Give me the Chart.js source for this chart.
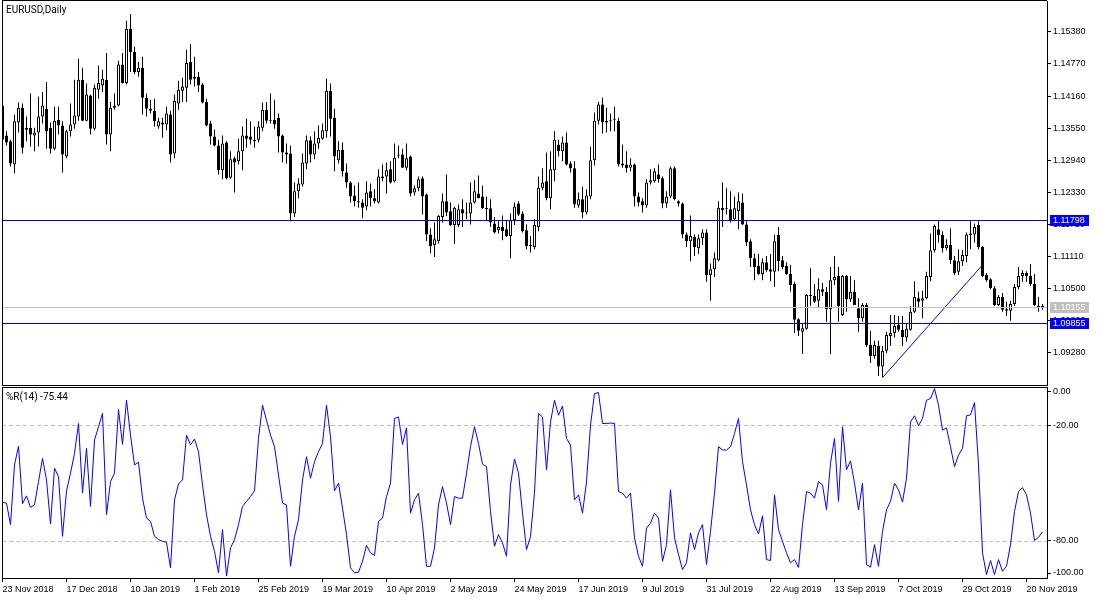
<!DOCTYPE html>
<html lang="en">
<head>
  <meta charset="UTF-8">
  <title>EURUSD,Daily</title>
  <style>
    html, body { margin: 0; padding: 0; background: #fff; }
    #wrap { position: relative; width: 1100px; height: 600px; overflow: hidden; background: #fff; }
    canvas { position: absolute; left: 0; }
    #price { top: 0; }
    #wpr { top: 386px; }
  </style>
</head>
<body>
  <div id="wrap">
    <canvas id="price" width="1100" height="386" style="width:1100px;height:386px"></canvas>
    <canvas id="wpr" width="1100" height="214" style="width:1100px;height:214px"></canvas>
  </div>
  <script src="https://cdn.jsdelivr.net/npm/chart.js@4.4.1/dist/chart.umd.min.js"></script>
  <script>
    const symbol = 'EURUSD,Daily';

    const opens = [
      1.1398, 1.1341, 1.1330, 1.1286, 1.1366, 1.1394, 1.1352, 1.1356, 1.1341, 1.1347,
      1.1377, 1.1392, 1.1356, 1.1316, 1.1371, 1.1360, 1.1301, 1.1349, 1.1362, 1.1377,
      1.1447, 1.1369, 1.1417, 1.1354, 1.1428, 1.1436, 1.1447, 1.1343, 1.1394, 1.1398,
      1.1476, 1.1441, 1.1544, 1.1500, 1.1462, 1.1470, 1.1413, 1.1392, 1.1388, 1.1358,
      1.1366, 1.1362, 1.1381, 1.1307, 1.1402, 1.1426, 1.1432, 1.1481, 1.1449, 1.1453,
      1.1438, 1.1405, 1.1364, 1.1339, 1.1322, 1.1275, 1.1328, 1.1261, 1.1298, 1.1292,
      1.1311, 1.1341, 1.1339, 1.1333, 1.1333, 1.1356, 1.1390, 1.1369, 1.1371, 1.1375,
      1.1341, 1.1309, 1.1307, 1.1193, 1.1235, 1.1248, 1.1288, 1.1332, 1.1305, 1.1326,
      1.1335, 1.1349, 1.1426, 1.1375, 1.1294, 1.1314, 1.1271, 1.1252, 1.1227, 1.1216,
      1.1214, 1.1206, 1.1235, 1.1222, 1.1214, 1.1260, 1.1263, 1.1277, 1.1254, 1.1303,
      1.1305, 1.1280, 1.1301, 1.1233, 1.1241, 1.1260, 1.1229, 1.1153, 1.1133, 1.1140,
      1.1186, 1.1216, 1.1197, 1.1171, 1.1171, 1.1201, 1.1193, 1.1193, 1.1214, 1.1231,
      1.1225, 1.1204, 1.1203, 1.1174, 1.1161, 1.1167, 1.1163, 1.1150, 1.1180, 1.1212,
      1.1193, 1.1161, 1.1131, 1.1129, 1.1167, 1.1242, 1.1254, 1.1222, 1.1275, 1.1324,
      1.1311, 1.1328, 1.1288, 1.1279, 1.1208, 1.1220, 1.1195, 1.1225, 1.1294, 1.1369,
      1.1400, 1.1366, 1.1369, 1.1371, 1.1369, 1.1288, 1.1286, 1.1280, 1.1286, 1.1225,
      1.1216, 1.1208, 1.1252, 1.1254, 1.1267, 1.1260, 1.1212, 1.1225, 1.1279, 1.1216,
      1.1212, 1.1153, 1.1140, 1.1148, 1.1127, 1.1146, 1.1157, 1.1076, 1.1087, 1.1104,
      1.1204, 1.1201, 1.1201, 1.1182, 1.1197, 1.1214, 1.1172, 1.1140, 1.1108, 1.1093,
      1.1078, 1.1100, 1.1087, 1.1082, 1.1152, 1.1104, 1.1093, 1.1078, 1.1059, 1.0992,
      1.0968, 1.0974, 1.1038, 1.1036, 1.1027, 1.1049, 1.1044, 1.1011, 1.1066, 1.1074,
      1.1000, 1.1074, 1.1030, 1.1044, 1.1013, 1.0994, 1.1019, 1.0943, 1.0922, 1.0941,
      1.0902, 1.0932, 1.0960, 1.0966, 1.0981, 1.0972, 1.0957, 1.0972, 1.1006, 1.1032,
      1.1027, 1.1032, 1.1072, 1.1123, 1.1163, 1.1152, 1.1127, 1.1133, 1.1104, 1.1082,
      1.1102, 1.1112, 1.1152, 1.1153, 1.1171, 1.1129, 1.1076, 1.1068, 1.1051, 1.1019,
      1.1034, 1.1011, 1.1008, 1.1021, 1.1053, 1.1074, 1.1080, 1.1074, 1.1059, 1.1017,
      1.1015
    ];
    const highs = [
      1.1402, 1.1349, 1.1333, 1.1381, 1.1404, 1.1402, 1.1377, 1.1421, 1.1356, 1.1415,
      1.1424, 1.1443, 1.1366, 1.1396, 1.1396, 1.1368, 1.1352, 1.1402, 1.1447, 1.1487,
      1.1470, 1.1440, 1.1419, 1.1438, 1.1474, 1.1466, 1.1498, 1.1405, 1.1421, 1.1483,
      1.1498, 1.1559, 1.1572, 1.1510, 1.1481, 1.1491, 1.1421, 1.1409, 1.1411, 1.1375,
      1.1375, 1.1396, 1.1388, 1.1419, 1.1445, 1.1451, 1.1504, 1.1515, 1.1491, 1.1462,
      1.1441, 1.1411, 1.1369, 1.1352, 1.1333, 1.1341, 1.1330, 1.1311, 1.1301, 1.1335,
      1.1358, 1.1373, 1.1368, 1.1358, 1.1368, 1.1404, 1.1405, 1.1421, 1.1409, 1.1383,
      1.1343, 1.1326, 1.1322, 1.1252, 1.1260, 1.1307, 1.1341, 1.1339, 1.1349, 1.1360,
      1.1364, 1.1449, 1.1440, 1.1392, 1.1330, 1.1328, 1.1288, 1.1254, 1.1246, 1.1252,
      1.1220, 1.1254, 1.1250, 1.1239, 1.1277, 1.1286, 1.1290, 1.1292, 1.1326, 1.1322,
      1.1316, 1.1326, 1.1303, 1.1246, 1.1263, 1.1263, 1.1231, 1.1165, 1.1176, 1.1190,
      1.1231, 1.1267, 1.1214, 1.1206, 1.1210, 1.1220, 1.1214, 1.1252, 1.1256, 1.1265,
      1.1246, 1.1225, 1.1220, 1.1186, 1.1178, 1.1189, 1.1180, 1.1193, 1.1214, 1.1216,
      1.1197, 1.1172, 1.1150, 1.1182, 1.1263, 1.1279, 1.1309, 1.1311, 1.1349, 1.1333,
      1.1339, 1.1347, 1.1292, 1.1292, 1.1233, 1.1244, 1.1239, 1.1320, 1.1385, 1.1405,
      1.1413, 1.1394, 1.1383, 1.1396, 1.1375, 1.1324, 1.1311, 1.1298, 1.1288, 1.1233,
      1.1222, 1.1258, 1.1277, 1.1279, 1.1286, 1.1263, 1.1235, 1.1282, 1.1282, 1.1218,
      1.1214, 1.1157, 1.1189, 1.1153, 1.1153, 1.1163, 1.1163, 1.1098, 1.1119, 1.1216,
      1.1252, 1.1241, 1.1235, 1.1225, 1.1233, 1.1231, 1.1178, 1.1144, 1.1117, 1.1116,
      1.1108, 1.1112, 1.1116, 1.1153, 1.1167, 1.1112, 1.1100, 1.1095, 1.1063, 1.0994,
      1.0983, 1.1040, 1.1089, 1.1059, 1.1070, 1.1061, 1.1053, 1.1091, 1.1112, 1.1091,
      1.1076, 1.1076, 1.1074, 1.1066, 1.1032, 1.1023, 1.1023, 1.0970, 1.0951, 1.0951,
      1.0941, 1.0968, 1.1000, 1.1000, 1.0998, 1.0998, 1.0985, 1.1017, 1.1064, 1.1044,
      1.1046, 1.1082, 1.1155, 1.1172, 1.1180, 1.1159, 1.1144, 1.1165, 1.1112, 1.1125,
      1.1123, 1.1157, 1.1178, 1.1174, 1.1178, 1.1131, 1.1080, 1.1070, 1.1055, 1.1038,
      1.1042, 1.1025, 1.1027, 1.1059, 1.1091, 1.1085, 1.1083, 1.1097, 1.1078, 1.1034,
      1.1021
    ];
    const lows = [
      1.1330, 1.1322, 1.1282, 1.1269, 1.1347, 1.1307, 1.1330, 1.1320, 1.1311, 1.1320,
      1.1364, 1.1316, 1.1307, 1.1313, 1.1343, 1.1271, 1.1298, 1.1339, 1.1354, 1.1369,
      1.1368, 1.1368, 1.1343, 1.1351, 1.1411, 1.1424, 1.1324, 1.1311, 1.1390, 1.1396,
      1.1440, 1.1438, 1.1462, 1.1458, 1.1453, 1.1381, 1.1377, 1.1383, 1.1358, 1.1354,
      1.1337, 1.1351, 1.1290, 1.1298, 1.1390, 1.1405, 1.1405, 1.1438, 1.1434, 1.1424,
      1.1402, 1.1358, 1.1324, 1.1320, 1.1267, 1.1258, 1.1258, 1.1259, 1.1233, 1.1286,
      1.1275, 1.1318, 1.1324, 1.1318, 1.1328, 1.1349, 1.1364, 1.1364, 1.1354, 1.1309,
      1.1290, 1.1288, 1.1178, 1.1186, 1.1222, 1.1244, 1.1277, 1.1290, 1.1296, 1.1316,
      1.1333, 1.1337, 1.1339, 1.1273, 1.1288, 1.1263, 1.1242, 1.1214, 1.1206, 1.1204,
      1.1184, 1.1199, 1.1206, 1.1212, 1.1212, 1.1254, 1.1231, 1.1250, 1.1252, 1.1298,
      1.1280, 1.1275, 1.1225, 1.1227, 1.1235, 1.1191, 1.1140, 1.1117, 1.1110, 1.1136,
      1.1176, 1.1188, 1.1169, 1.1135, 1.1167, 1.1167, 1.1182, 1.1172, 1.1212, 1.1222,
      1.1201, 1.1178, 1.1167, 1.1155, 1.1155, 1.1142, 1.1148, 1.1108, 1.1171, 1.1188,
      1.1157, 1.1125, 1.1119, 1.1125, 1.1159, 1.1237, 1.1218, 1.1201, 1.1254, 1.1301,
      1.1292, 1.1284, 1.1271, 1.1204, 1.1204, 1.1184, 1.1191, 1.1220, 1.1284, 1.1362,
      1.1345, 1.1347, 1.1349, 1.1349, 1.1282, 1.1280, 1.1271, 1.1273, 1.1206, 1.1206,
      1.1195, 1.1204, 1.1248, 1.1252, 1.1252, 1.1203, 1.1204, 1.1222, 1.1218, 1.1206,
      1.1146, 1.1129, 1.1102, 1.1112, 1.1116, 1.1133, 1.1063, 1.1027, 1.1072, 1.1102,
      1.1167, 1.1191, 1.1176, 1.1180, 1.1163, 1.1171, 1.1131, 1.1091, 1.1066, 1.1076,
      1.1066, 1.1082, 1.1064, 1.1053, 1.1083, 1.1087, 1.1076, 1.1044, 1.0966, 1.0960,
      1.0926, 1.0972, 1.1017, 1.1023, 1.1015, 1.1036, 1.0987, 1.0926, 1.1057, 1.0987,
      1.0998, 1.1006, 1.1025, 1.1019, 1.0968, 1.0987, 1.0939, 1.0909, 1.0917, 1.0884,
      1.0881, 1.0928, 1.0941, 1.0957, 1.0968, 1.0941, 1.0949, 1.0970, 1.1004, 1.1015,
      1.0994, 1.1030, 1.1064, 1.1119, 1.1138, 1.1119, 1.1123, 1.1097, 1.1076, 1.1076,
      1.1093, 1.1100, 1.1125, 1.1138, 1.1125, 1.1072, 1.1063, 1.1049, 1.1017, 1.1017,
      1.1006, 1.0998, 1.0989, 1.1017, 1.1049, 1.1063, 1.1063, 1.1055, 1.1017, 1.1006,
      1.1010
    ];
    const closes = [
      1.1333, 1.1328, 1.1288, 1.1368, 1.1394, 1.1318, 1.1356, 1.1343, 1.1347, 1.1377,
      1.1398, 1.1349, 1.1316, 1.1369, 1.1360, 1.1305, 1.1349, 1.1362, 1.1379, 1.1447,
      1.1369, 1.1419, 1.1354, 1.1432, 1.1441, 1.1449, 1.1343, 1.1394, 1.1398, 1.1476,
      1.1441, 1.1544, 1.1500, 1.1462, 1.1470, 1.1413, 1.1392, 1.1388, 1.1368, 1.1368,
      1.1362, 1.1383, 1.1305, 1.1407, 1.1428, 1.1434, 1.1479, 1.1447, 1.1453, 1.1436,
      1.1404, 1.1360, 1.1339, 1.1322, 1.1275, 1.1326, 1.1260, 1.1296, 1.1290, 1.1311,
      1.1341, 1.1335, 1.1333, 1.1330, 1.1358, 1.1390, 1.1369, 1.1371, 1.1362, 1.1339,
      1.1309, 1.1305, 1.1193, 1.1235, 1.1250, 1.1290, 1.1332, 1.1305, 1.1326, 1.1337,
      1.1351, 1.1426, 1.1373, 1.1301, 1.1314, 1.1273, 1.1252, 1.1225, 1.1216, 1.1214,
      1.1204, 1.1233, 1.1222, 1.1216, 1.1263, 1.1263, 1.1275, 1.1252, 1.1299, 1.1305,
      1.1280, 1.1298, 1.1231, 1.1241, 1.1258, 1.1225, 1.1153, 1.1131, 1.1144, 1.1188,
      1.1216, 1.1195, 1.1171, 1.1204, 1.1201, 1.1193, 1.1193, 1.1214, 1.1235, 1.1222,
      1.1203, 1.1201, 1.1176, 1.1157, 1.1167, 1.1159, 1.1150, 1.1180, 1.1206, 1.1191,
      1.1159, 1.1131, 1.1133, 1.1171, 1.1242, 1.1252, 1.1222, 1.1277, 1.1333, 1.1311,
      1.1328, 1.1286, 1.1279, 1.1210, 1.1220, 1.1195, 1.1227, 1.1294, 1.1369, 1.1400,
      1.1366, 1.1369, 1.1371, 1.1371, 1.1286, 1.1284, 1.1279, 1.1286, 1.1225, 1.1214,
      1.1208, 1.1252, 1.1256, 1.1273, 1.1258, 1.1212, 1.1225, 1.1279, 1.1220, 1.1212,
      1.1153, 1.1140, 1.1150, 1.1129, 1.1146, 1.1157, 1.1076, 1.1087, 1.1108, 1.1204,
      1.1199, 1.1201, 1.1180, 1.1203, 1.1216, 1.1172, 1.1138, 1.1108, 1.1091, 1.1078,
      1.1100, 1.1085, 1.1082, 1.1140, 1.1102, 1.1091, 1.1078, 1.1057, 1.0991, 1.0970,
      1.0975, 1.1038, 1.1036, 1.1025, 1.1049, 1.1044, 1.1011, 1.1066, 1.1072, 1.1017,
      1.1074, 1.1030, 1.1044, 1.1019, 1.0994, 1.1019, 1.0943, 1.0922, 1.0943, 1.0902,
      1.0932, 1.0962, 1.0966, 1.0979, 1.0972, 1.0958, 1.0974, 1.1006, 1.1034, 1.1025,
      1.1032, 1.1074, 1.1123, 1.1169, 1.1152, 1.1127, 1.1133, 1.1104, 1.1080, 1.1102,
      1.1114, 1.1153, 1.1155, 1.1167, 1.1129, 1.1074, 1.1066, 1.1051, 1.1019, 1.1034,
      1.1010, 1.1008, 1.1021, 1.1053, 1.1074, 1.1080, 1.1074, 1.1059, 1.1019, 1.1015,
      1.10155
    ];

    // Williams %R(14), one value per bar
    const wpr = [
      -60.0, -60.5, -71.7, -40.6, -30.8, -60.8, -56.7, -62.7, -61.4, -49.3,
      -37.2, -48.4, -71.4, -42.3, -46.7, -77.8, -54.1, -44.9, -34.6, -19.0,
      -55.3, -32.0, -62.2, -27.6, -20.7, -13.8, -66.5, -49.3, -44.9, -11.7,
      -29.9, -6.9, -25.1, -40.6, -39.2, -57.9, -68.3, -70.0, -77.8, -79.5,
      -80.4, -80.9, -94.2, -58.8, -50.5, -48.4, -25.1, -30.2, -27.1, -33.7,
      -51.0, -66.5, -77.8, -85.6, -96.8, -74.3, -98.5, -83.8, -79.5, -71.7,
      -62.2, -59.6, -57.1, -54.1, -26.8, -9.5, -17.3, -25.1, -31.1, -45.8,
      -60.5, -61.4, -93.4, -77.8, -69.1, -48.4, -36.3, -47.5, -38.9, -33.7,
      -29.4, -9.5, -25.9, -54.1, -50.1, -63.1, -76.9, -94.2, -96.8, -96.5,
      -90.8, -82.5, -86.4, -87.7, -70.0, -68.3, -57.1, -50.1, -16.4, -15.6,
      -29.9, -21.3, -65.7, -58.8, -55.3, -71.7, -93.4, -93.4, -83.8, -61.4,
      -51.9, -60.5, -71.7, -57.1, -57.9, -57.9, -44.9, -31.1, -20.7, -29.4,
      -40.2, -41.5, -64.8, -83.0, -76.9, -81.2, -88.2, -51.0, -37.5, -44.9,
      -65.7, -84.7, -78.0, -55.0, -13.8, -15.6, -43.2, -18.2, -6.9, -14.7,
      -9.9, -26.8, -30.2, -58.8, -56.2, -65.7, -49.3, -19.9, -3.4, -2.9,
      -19.0, -19.0, -18.8, -19.0, -54.5, -55.3, -57.9, -55.3, -78.6, -88.2,
      -93.4, -73.5, -70.9, -65.7, -68.3, -90.8, -82.1, -53.6, -78.6, -87.3,
      -95.1, -91.6, -76.0, -84.7, -76.0, -71.7, -92.5, -75.2, -55.3, -31.1,
      -32.8, -32.8, -31.1, -24.2, -16.4, -38.9, -51.0, -64.0, -71.7, -76.6,
      -67.1, -89.9, -90.4, -56.2, -74.3, -80.4, -86.4, -91.6, -89.9, -94.0,
      -71.7, -54.5, -55.3, -57.9, -49.3, -51.0, -64.0, -39.7, -26.8, -59.6,
      -20.7, -43.2, -38.5, -50.1, -64.0, -50.1, -92.5, -93.9, -82.1, -93.4,
      -75.2, -64.0, -59.6, -50.1, -53.6, -60.0, -47.5, -18.2, -15.0, -20.2,
      -16.4, -6.9, -6.0, -0.8, -9.5, -22.5, -21.3, -31.1, -41.5, -35.4,
      -32.0, -15.0, -14.5, -8.1, -40.6, -86.4, -97.7, -90.4, -97.7, -89.9,
      -96.0, -93.4, -82.1, -64.8, -54.5, -52.4, -56.2, -65.7, -80.0, -78.3,
      -75.44
    ];

    const dateBars = [0, 16, 32, 48, 64, 80, 96, 112, 128, 144, 160, 176, 192, 208, 224, 240, 256];
    const dateLabels = ['23 Nov 2018', '17 Dec 2018', '10 Jan 2019', '1 Feb 2019', '25 Feb 2019', '19 Mar 2019',
      '10 Apr 2019', '2 May 2019', '24 May 2019', '17 Jun 2019', '9 Jul 2019', '31 Jul 2019', '22 Aug 2019',
      '13 Sep 2019', '7 Oct 2019', '29 Oct 2019', '20 Nov 2019'];

    const priceTicks = [1.09280, 1.09890, 1.10500, 1.11110, 1.11720, 1.12330, 1.12940, 1.13550, 1.14160, 1.14770, 1.15380];
    const wprTicks = [0, -20, -80, -100];
    const wprLevels = [-20, -80];

    const levelPrices = [1.11798, 1.09855];
    const bidPrice = 1.10155;
    const trendBars = [220, 244.75];
    const trendPrices = [1.0881, 1.1093];

    Chart.defaults.font.family = '"Liberation Sans", Arial, sans-serif';
    Chart.defaults.font.size = 9;
    Chart.defaults.color = '#000';
    Chart.defaults.animation = false;

    const FONT = '9px "Liberation Sans", Arial, sans-serif';
    const LABEL_FONT = '10px Roboto, "Liberation Sans", sans-serif';
    const xMin = -0.125, xMax = 261.125;

    const bodies = opens.map((o, i) => ({ x: i, y: [Math.min(o, closes[i]), Math.max(o, closes[i])] }));
    const wicks = highs.map((h, i) => ({ x: i, y: [lows[i], h] }));
    const bodyColors = opens.map((o, i) => closes[i] >= o ? '#ffffff' : '#000000');
    const trend = trendBars.map((b, i) => ({ x: b, y: trendPrices[i] }));

    function rightAxis(extra) {
      return Object.assign({
        position: 'right',
        afterFit: (axis) => { axis.width = 53; axis.paddingTop = 0; axis.paddingBottom = 0; },
        grid: { drawOnChartArea: false, color: '#000', tickLength: 4 },
        border: { color: '#000' },
      }, extra);
    }

    // 1px horizontal rule across the plot area, at a value of the y scale
    function hrule(chart, value, color) {
      const { ctx, chartArea: a, scales: { y } } = chart;
      ctx.fillStyle = color;
      ctx.fillRect(a.left, Math.round(y.getPixelForValue(value)), a.right - a.left, 1);
    }

    const priceOverlay = {
      id: 'priceOverlay',
      afterDatasetsDraw(chart) {
        const { ctx } = chart;
        ctx.save();
        hrule(chart, bidPrice, '#c0c0c0');
        levelPrices.forEach((v) => hrule(chart, v, '#0000ff'));
        ctx.restore();
      },
      afterDraw(chart) {
        const { ctx, chartArea: a, scales: { y } } = chart;
        ctx.save();
        ctx.fillStyle = '#000';
        ctx.fillRect(a.left, 0, a.right - a.left, 1);
        ctx.fillRect(a.left, a.bottom, a.right - a.left + 1, 1);
        ctx.fillRect(a.left, 0, 1, a.bottom);

        ctx.font = LABEL_FONT;
        ctx.textBaseline = 'middle';
        ctx.fillText(symbol, 6, 10.5);

        ctx.font = FONT;
        const tag = (v, bg) => {
          const py = Math.round(y.getPixelForValue(v));
          ctx.fillStyle = bg;
          ctx.fillRect(a.right + 3, py - 5, 39, 11);
          ctx.fillStyle = '#fff';
          ctx.fillText(v.toFixed(5), a.right + 6, py + 0.5);
        };
        tag(levelPrices[0], '#0000ff');
        tag(bidPrice, '#c0c0c0');
        tag(levelPrices[1], '#0000ff');
        ctx.restore();
      }
    };

    new Chart(document.getElementById('price'), {
      type: 'bar',
      data: {
        datasets: [
          { type: 'line', data: trend, borderColor: '#0000ff', borderWidth: 1, pointRadius: 0, order: 0 },
          {
            data: bodies, backgroundColor: bodyColors, borderColor: '#000', borderWidth: 1,
            borderSkipped: false, barThickness: 3, minBarLength: 1, grouped: false, inflateAmount: 0, order: 1
          },
          {
            data: wicks, backgroundColor: '#000', borderWidth: 0,
            barThickness: 1, grouped: false, inflateAmount: 0, order: 2
          }
        ]
      },
      options: {
        responsive: false,
        layout: { padding: { top: 1, left: 2, right: 0, bottom: 1 } },
        plugins: { legend: { display: false }, tooltip: { enabled: false } },
        events: [],
        scales: {
          x: { type: 'linear', display: false, min: xMin, max: xMax, offset: false },
          y: rightAxis({
            min: 1.086696, max: 1.159672,
            afterBuildTicks: (axis) => { axis.ticks = priceTicks.map((v) => ({ value: v })); },
            ticks: { autoSkip: false, padding: 2, callback: (v) => Number(v).toFixed(5) }
          })
        }
      },
      plugins: [priceOverlay]
    });

    const wprOverlay = {
      id: 'wprOverlay',
      beforeDatasetsDraw(chart) {
        const { ctx, chartArea: a, scales: { y } } = chart;
        ctx.save();
        ctx.strokeStyle = '#c0c0c0';
        ctx.lineWidth = 1;
        ctx.setLineDash([4, 3]);
        wprLevels.forEach((v) => {
          const py = Math.round(y.getPixelForValue(v)) + 0.5;
          ctx.beginPath();
          ctx.moveTo(a.left, py);
          ctx.lineTo(a.right, py);
          ctx.stroke();
        });
        ctx.restore();
      },
      afterDraw(chart) {
        const { ctx, chartArea: a } = chart;
        ctx.save();
        ctx.fillStyle = '#000';
        ctx.fillRect(a.left, a.top, a.right - a.left, 1);
        ctx.fillRect(a.left, a.top, 1, a.bottom - a.top);
        ctx.font = LABEL_FONT;
        ctx.textBaseline = 'middle';
        ctx.fillText('%R(14) ' + wpr[wpr.length - 1].toFixed(2), 6, 11.5);
        ctx.restore();
      }
    };

    new Chart(document.getElementById('wpr'), {
      type: 'line',
      data: {
        datasets: [{
          data: wpr.map((v, i) => ({ x: i, y: v })),
          borderColor: '#0000ff', borderWidth: 1, pointRadius: 0, tension: 0, fill: false
        }]
      },
      options: {
        responsive: false,
        layout: { padding: { top: 1, left: 2, right: 0, bottom: 0 } },
        plugins: { legend: { display: false }, tooltip: { enabled: false } },
        events: [],
        scales: {
          x: {
            type: 'linear', min: xMin, max: xMax, offset: false,
            afterBuildTicks: (axis) => { axis.ticks = dateBars.map((v) => ({ value: v })); },
            afterFit: (axis) => { axis.height = 22; axis.paddingLeft = 0; axis.paddingRight = 0; },
            grid: { drawOnChartArea: false, color: '#000', tickLength: 4 },
            border: { color: '#000' },
            ticks: { autoSkip: false, maxRotation: 0, align: 'start', padding: 2, callback: (v, i) => dateLabels[i] }
          },
          y: rightAxis({
            min: -99.5, max: 0,
            afterBuildTicks: (axis) => {
              axis.ticks = wprTicks.map((v) => ({ value: Math.min(axis.max - 2.6, Math.max(axis.min + 2.6, v)) }));
            },
            ticks: { autoSkip: false, padding: 2, callback: (v, i) => wprTicks[i].toFixed(2) }
          })
        }
      },
      plugins: [wprOverlay]
    });
  </script>
</body>
</html>
